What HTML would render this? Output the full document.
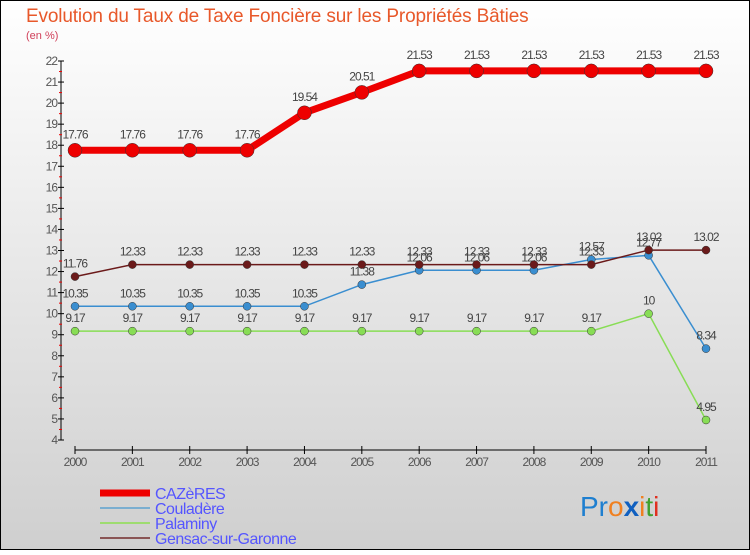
<!DOCTYPE html>
<html><head><meta charset="utf-8"><style>
body{margin:0;width:750px;height:550px;overflow:hidden}
svg text{font-family:"Liberation Sans","DejaVu Sans",sans-serif}
</style></head><body>
<svg width="750" height="550" viewBox="0 0 750 550">
<defs><linearGradient id="bg" x1="0" y1="0" x2="0" y2="1"><stop offset="0" stop-color="#ffffff"/><stop offset="1" stop-color="#cfcfcf"/></linearGradient></defs>
<rect x="0.5" y="0.5" width="749" height="549" fill="url(#bg)" stroke="#000"/>
<text x="26" y="22" font-size="19" fill="#e8582a" letter-spacing="-0.15">Evolution du Taux de Taxe Foncière sur les Propriétés Bâties</text>
<text x="26" y="39" font-size="11" fill="#d0405a">(en %)</text>
<g id="axes"></g><g id="series"></g><g id="legend"></g>
<text x="580" y="516" font-size="28"><tspan fill="#1e7fd0">Pr</tspan><tspan fill="#f08020">o</tspan><tspan fill="#1060c0" font-weight="bold">x</tspan><tspan fill="#f08020">i</tspan><tspan fill="#40a030">t</tspan><tspan fill="#e03020">i</tspan></text>
</svg>
<script>
const years=[2000,2001,2002,2003,2004,2005,2006,2007,2008,2009,2010,2011];
const cazeres=[17.76,17.76,17.76,17.76,19.54,20.51,21.53,21.53,21.53,21.53,21.53,21.53];
const couladere=[10.35,10.35,10.35,10.35,10.35,11.38,12.06,12.06,12.06,12.57,12.77,8.34];
const palaminy=[9.17,9.17,9.17,9.17,9.17,9.17,9.17,9.17,9.17,9.17,10,4.95];
const gensac=[11.76,12.33,12.33,12.33,12.33,12.33,12.33,12.33,12.33,12.33,13.02,13.02];
const yTicks=[4,5,6,7,8,9,10,11,12,13,14,15,16,17,18,19,20,21,22];
const NS="http://www.w3.org/2000/svg";
const X=i=>75+i*(706-75)/11;
const Y=v=>440-(v-4)*(440-61)/18;
function mk(p,t,a){const e=document.createElementNS(NS,t);for(const k in a)e.setAttribute(k,a[k]);p.appendChild(e);return e;}
const ax=document.getElementById('axes');
let l=mk(ax,'line',{x1:61,y1:61,x2:61,y2:440,stroke:'#000'});


yTicks.forEach(v=>{
 mk(ax,'line',{x1:58,x2:64,y1:Y(v),y2:Y(v),stroke:'#000'});
 if(v<22)mk(ax,'line',{x1:59,x2:62,y1:Y(v+0.5),y2:Y(v+0.5),stroke:'#e00'});
 const t=mk(ax,'text',{x:57,y:Y(v)+4,'font-size':12,'text-anchor':'end',fill:'#555','letter-spacing':'-1'});
 t.textContent=v;
 
 
});
l=mk(ax,'line',{x1:X(0),y1:450,x2:X(11),y2:450,stroke:'#000'});


years.forEach((y,i)=>{
 mk(ax,'line',{x1:X(i),x2:X(i),y1:446,y2:454,stroke:'#000'});
 const t=mk(ax,'text',{x:X(i),y:466,'font-size':12,'text-anchor':'middle',fill:'#555','letter-spacing':'-1'});
 t.textContent=y;
 
 
});
const sg=document.getElementById('series');
function series(vals,color,w,r,name){
 const g=mk(sg,'g',{});
 
 
 const pl=mk(g,'polyline',{points:vals.map((v,i)=>X(i)+','+Y(v)).join(' '),fill:'none',stroke:color,'stroke-width':w});
 
 
 vals.forEach((v,i)=>{
  const c=mk(g,'circle',{cx:X(i),cy:Y(v),r:r,fill:color,stroke:'#333','stroke-width':0.5});
  
  
  const t=mk(g,'text',{x:X(i),y:Y(v)-(r+5),'font-size':12,'text-anchor':'middle',fill:'#444','letter-spacing':'-1'});
  t.textContent=String(v);
  
  
 });
}
series(palaminy,'#88dd55',1.5,4,'palaminy');
series(couladere,'#3a8ed0',1.5,4,'couladere');
series(gensac,'#6b1a1a',1.5,4,'gensac');
series(cazeres,'#ee0000',7,7,'cazeres');
const lg=document.getElementById('legend');
[['CAZèRES','#ee0000',7],['Couladère','#7aaed0',2],['Palaminy','#9edc70',2],['Gensac-sur-Garonne','#8a5555',2]].forEach((e,i)=>{
 const y=493+i*15;
 const g=mk(lg,'g',{});
 
 
 mk(g,'line',{x1:100,x2:150,y1:y,y2:y,stroke:e[1],'stroke-width':e[2]});
 const t=mk(g,'text',{x:155,y:y+6,'font-size':16,fill:'#5555ff','letter-spacing':'-0.5'});
 t.textContent=e[0];
});
</script>
</body></html>
